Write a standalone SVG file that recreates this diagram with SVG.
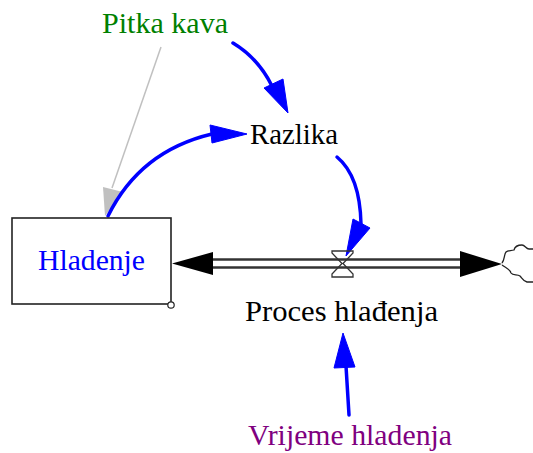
<svg xmlns="http://www.w3.org/2000/svg" width="533" height="453" viewBox="0 0 533 453">
<style>
.t{font-family:"Liberation Serif","Times New Roman",serif;font-size:30px;}
.link{fill:none;stroke:#0000ff;stroke-width:3.5;stroke-linecap:round;}
.head{fill:#0000ff;stroke:#0000ff;stroke-width:1;}
.pipe{stroke:#333;stroke-width:2.5;fill:none;}
</style>
<rect width="533" height="453" fill="#ffffff"/>
<g id="connectors">
  <line x1="161" y1="47" x2="112" y2="188" stroke="#c0c0c0" stroke-width="1.5"/>
  <polygon points="103,187 123,192 105,216" fill="#c0c0c0"/>
  <path class="link" d="M233,43 Q258,58 272,86"/>
  <polygon class="head" points="264,88 283,79 288,113"/>
  <path class="link" d="M108,216 Q140,151 212,134"/>
  <polygon class="head" points="210,125 247,134 212,143"/>
  <path class="link" d="M337,157 Q360,176 361,224"/>
  <polygon class="head" points="353,219 370,228 346,256"/>
  <path class="link" d="M349,415 L346,366"/>
  <polygon class="head" points="343,333 334,368 355,367"/>
</g>
<g id="flow">
  <line class="pipe" x1="200" y1="259.5" x2="470" y2="259.5"/>
  <line class="pipe" x1="200" y1="267.5" x2="470" y2="267.5"/>
  <polygon points="172,263.5 213,252 213,275" fill="#000"/>
  <polygon points="460,251 460,277 502,264" fill="#000"/>
  <path d="M332,251 H353 V253 L343,263.5 L353,274 V277 H332 V274 L342,263.5 L332,253 Z" fill="none" stroke="#333" stroke-width="1.3"/>
</g>
<g id="cloud">
  <path d="M502,263 C505,259 504,254 506,252 C508,250 511,251 514,250 C515,246 518,245 522,245 C525,245 526,249 529,249 L533,249" fill="none" stroke="#222" stroke-width="1.3"/>
  <path d="M502,265 C506,268 510,269 511,273 C513,276 517,274 520,276 C522,278 523,281 527,282 L533,282" fill="none" stroke="#222" stroke-width="1.3"/>
</g>
<g id="Hladenje">
  <rect x="12" y="218" width="159" height="86" fill="#ffffff" stroke="#222" stroke-width="1.6"/>
  <circle cx="171" cy="305" r="3.2" fill="#ffffff" stroke="#222" stroke-width="1.2"/>
  <text class="t" x="38" y="270" fill="#0000ff" textLength="107" lengthAdjust="spacingAndGlyphs">Hladenje</text>
</g>
<g id="Pitka_kava">
  <text class="t" x="102" y="33" fill="#008000" textLength="126" lengthAdjust="spacingAndGlyphs">Pitka kava</text>
</g>
<g id="Razlika">
  <text class="t" x="250" y="144" fill="#000000" textLength="88" lengthAdjust="spacingAndGlyphs">Razlika</text>
</g>
<g id="Proces_hladenja">
  <text class="t" x="245" y="321" fill="#000000" textLength="193" lengthAdjust="spacingAndGlyphs">Proces hlađenja</text>
</g>
<g id="Vrijeme_hladenja">
  <text class="t" x="248" y="445" fill="#800080" textLength="204" lengthAdjust="spacingAndGlyphs">Vrijeme hladenja</text>
</g>
</svg>
